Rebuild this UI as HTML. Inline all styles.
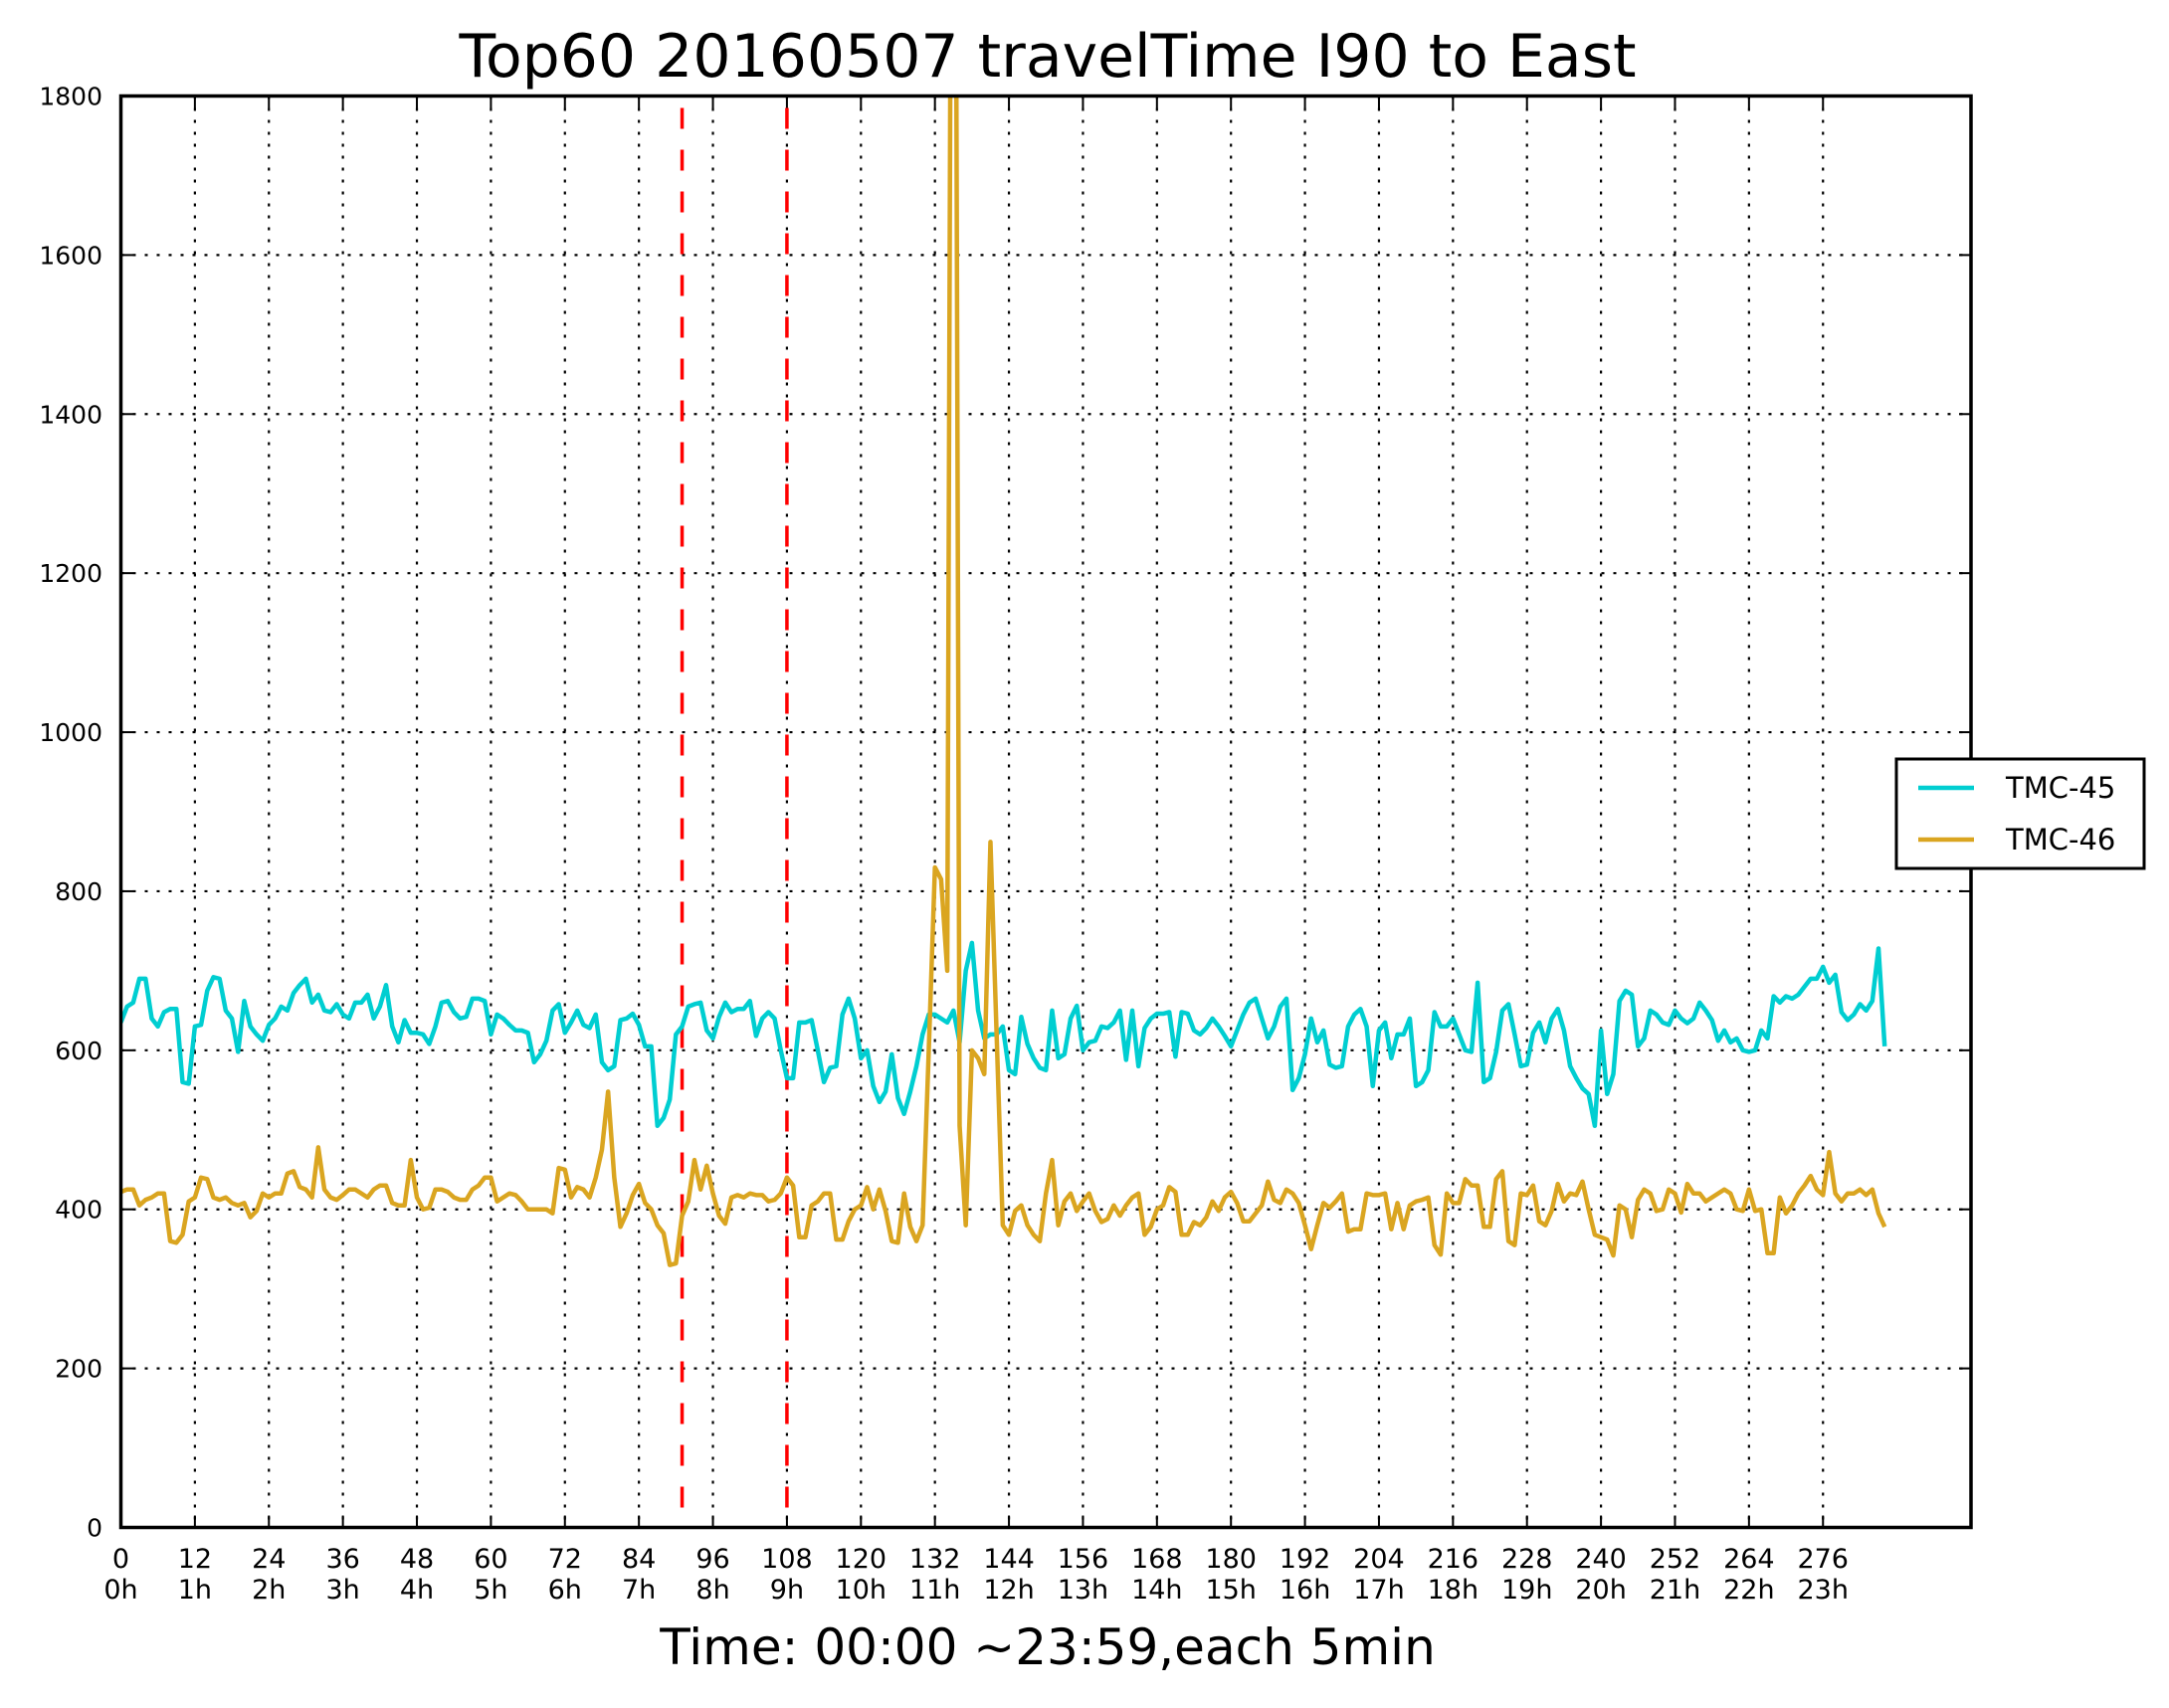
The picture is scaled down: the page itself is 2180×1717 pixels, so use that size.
<!DOCTYPE html>
<html><head><meta charset="utf-8"><style>
html,body{margin:0;padding:0;background:#fff;}
svg text{font-family:"DejaVu Sans","Liberation Sans",sans-serif;fill:#000;}
</style></head><body>
<svg id="chart" width="2180" height="1712" viewBox="0 0 2180 1712" xmlns="http://www.w3.org/2000/svg">
<defs><clipPath id="plotclip"><rect x="121" y="96" width="1860" height="1440"/></clipPath></defs>
<text x="1053" y="77" font-size="60" text-anchor="middle">Top60 20160507 travelTime I90 to East</text>
<text x="1053" y="1673" font-size="50" text-anchor="middle">Time: 00:00 ~23:59,each 5min</text>
<g id="grid"></g>
<g id="marks" clip-path="url(#plotclip)"></g>
<g id="axes"></g>
<g id="legend">
<rect x="1906" y="763" width="249" height="110" fill="#fff" stroke="#000" stroke-width="3"/>
<g><line x1="1928" y1="792" x2="1984" y2="792" stroke="#00ced1" stroke-width="4.5"/><text x="2016" y="802" font-size="29">TMC-45</text></g>
<g><line x1="1928" y1="844" x2="1984" y2="844" stroke="#daa520" stroke-width="4.5"/><text x="2016" y="854" font-size="29">TMC-46</text></g>
</g>
</svg>
<script>
const xTicks=[0,12,24,36,48,60,72,84,96,108,120,132,144,156,168,180,192,204,216,228,240,252,264,276];
const hourLabels=["0h","1h","2h","3h","4h","5h","6h","7h","8h","9h","10h","11h","12h","13h","14h","15h","16h","17h","18h","19h","20h","21h","22h","23h"];
const yTicks=[0,200,400,600,800,1000,1200,1400,1600,1800];
const markerLines=[91,108];
const tmc45=[635,655,660,690,690,640,630,648,652,652,560,558,
630,632,675,692,690,650,640,598,662,630,620,612,
632,640,655,650,672,682,690,660,670,650,648,658,
645,640,660,660,670,640,655,682,630,610,638,622,
622,620,608,630,660,662,648,640,642,665,665,662,
620,645,640,632,625,625,622,585,595,612,650,658,
622,635,650,632,628,645,585,575,580,638,640,646,
632,605,605,505,515,538,620,630,655,658,660,625,
615,642,660,648,652,652,662,618,640,648,640,600,
565,565,635,635,638,600,560,578,580,645,665,640,
590,600,555,535,548,595,540,520,548,580,620,645,
645,640,635,650,610,700,735,650,615,620,620,630,
575,570,642,608,590,578,575,650,590,595,640,656,
600,610,612,630,628,635,650,588,650,580,628,640,
646,646,648,592,648,646,625,620,628,640,630,618,
605,625,645,660,665,640,615,630,655,665,550,565,
595,640,610,625,582,578,580,630,645,652,630,555,
625,635,590,620,620,640,555,560,575,648,630,630,
640,620,600,598,685,560,565,598,650,658,620,580,
582,622,635,610,640,652,625,580,565,552,545,505,
625,545,570,662,675,670,605,615,650,645,635,632,
650,640,634,640,660,650,638,612,625,610,615,600,
598,600,625,615,668,660,668,665,670,680,690,690,
705,685,695,648,638,645,658,650,662,728,605];
const tmc46=[422,425,425,405,412,415,420,420,360,358,368,410,
415,440,438,415,412,415,408,405,408,390,398,420,
415,420,420,445,448,428,425,415,478,425,415,412,
418,425,425,420,415,425,430,430,408,405,405,462,
415,400,402,425,425,422,415,412,412,425,430,440,
440,410,415,420,418,410,400,400,400,400,395,452,
450,415,428,425,415,440,475,548,440,378,395,418,
432,408,400,380,370,330,332,392,410,462,425,455,
420,392,382,415,418,415,420,418,418,410,412,420,
440,430,365,365,405,410,420,420,362,362,385,400,
405,428,400,425,398,360,358,420,378,360,380,600,
830,815,700,3000,505,380,600,590,570,862,620,380,
368,398,405,380,368,360,420,462,380,410,420,398,
410,420,398,384,388,405,392,405,415,420,368,378,
400,405,428,422,368,368,384,380,390,410,398,415,
422,408,385,385,395,405,435,412,408,425,420,408,
380,350,380,408,402,410,420,372,375,375,420,418,
418,420,375,408,375,405,410,412,415,355,343,420,
408,408,438,430,430,378,378,438,448,360,355,420,
418,430,385,380,398,432,410,420,418,435,400,368,
365,362,342,405,400,365,412,425,420,398,400,425,
420,396,432,420,420,410,415,420,425,420,400,398,
425,398,400,345,345,415,395,405,420,430,442,425,
418,472,420,410,420,420,425,418,425,395,378];
const NS="http://www.w3.org/2000/svg";
const L=121.5,R=1981,T=96.5,B=1535.5,XMAX=300,YMAX=1800;
function xs(v){return L+(R-L)*v/XMAX;}
function ys(v){return B-(B-T)*v/YMAX;}
function mk(tag,attrs,parent){const e=document.createElementNS(NS,tag);for(const k in attrs)e.setAttribute(k,attrs[k]);parent.appendChild(e);return e;}
const grid=document.getElementById('grid'),marks=document.getElementById('marks'),axes=document.getElementById('axes');
xTicks.forEach((t,i)=>{
  const g=mk('line',{x1:xs(t),x2:xs(t),y1:T,y2:B,stroke:'#000','stroke-width':2.2,'stroke-dasharray':'3,9'},grid);
  
  
  mk('line',{x1:xs(t),x2:xs(t),y1:B,y2:B-12,stroke:'#000','stroke-width':2},axes);
  mk('line',{x1:xs(t),x2:xs(t),y1:T,y2:T+12,stroke:'#000','stroke-width':2},axes);
  const a=mk('text',{x:xs(t),y:1576,'font-size':27,'text-anchor':'middle'},axes);a.textContent=t;
  
  
  const b=mk('text',{x:xs(t),y:1607,'font-size':27,'text-anchor':'middle'},axes);b.textContent=hourLabels[i];
  
  
});
yTicks.forEach(t=>{
  if(t>0&&t<YMAX){const g=mk('line',{x1:L,x2:R,y1:ys(t),y2:ys(t),stroke:'#000','stroke-width':2.2,'stroke-dasharray':'3,9'},grid);
  
  }
  mk('line',{x1:L,x2:L+12,y1:ys(t),y2:ys(t),stroke:'#000','stroke-width':2},axes);
  mk('line',{x1:R,x2:R-12,y1:ys(t),y2:ys(t),stroke:'#000','stroke-width':2},axes);
  const a=mk('text',{x:103,y:ys(t)+9,'font-size':25,'text-anchor':'end'},axes);a.textContent=t;
  
  
});
markerLines.forEach(m=>{
  const l=mk('line',{x1:xs(m),x2:xs(m),y1:ys(25),y2:T,stroke:'#ff0000','stroke-width':3.5,'stroke-dasharray':'21,21'},marks);
  
  
});
function series(data,color,name){
  const p=mk('polyline',{points:data.map((v,i)=>xs(i)+','+ys(v)).join(' '),fill:'none',stroke:color,'stroke-width':4.5,'stroke-linejoin':'round'},marks);
  
  
}
series(tmc45,'#00ced1','tmc-45-line');
series(tmc46,'#daa520','tmc-46-line');
const frame=mk('rect',{x:L,y:T,width:R-L,height:B-T,fill:'none',stroke:'#000','stroke-width':3.5},axes);


</script>
</body></html>
